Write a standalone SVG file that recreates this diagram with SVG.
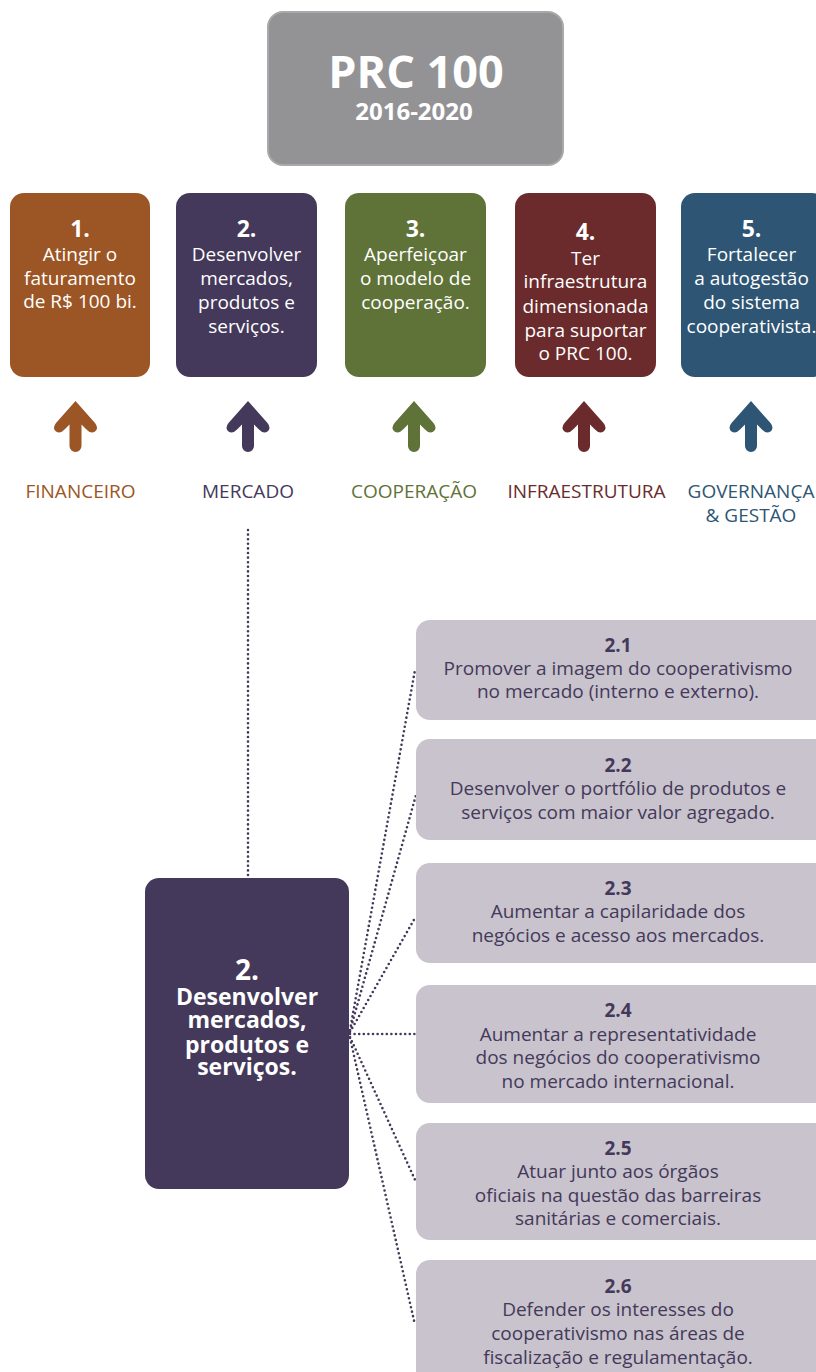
<svg xmlns="http://www.w3.org/2000/svg" width="816" height="1372" viewBox="0 0 816 1372">
<style>
.t{font-family:"Open Sans","Liberation Sans",sans-serif;text-anchor:middle}
.w{fill:#ffffff}
.n{font-weight:bold;font-size:23px}
.b{font-size:19px}
.lab{font-size:19px}
.sub{fill:#c8c3cc}
.st{fill:#44395a}
.sn{font-weight:bold;font-size:19px}
.sb{font-size:19px}
.mb{font-weight:bold;font-size:23px}
.dot{fill:none;stroke:#44395a;stroke-width:2.6;stroke-linecap:round;stroke-dasharray:0 4.6}
</style>
<defs>
<path id="arw" d="M0 0 L19.5 22 Q23.5 27 19.5 30.5 Q15 33 11 28.5 L6 23.5 L6 45 A6 6 0 0 1 -6 45 L-6 23.5 L-11 28.5 Q-15 33 -19.5 30.5 Q-23.5 27 -19.5 22 Z"/>
</defs>
<rect width="816" height="1372" fill="#ffffff"/>

<g id="top">
<rect x="268" y="12" width="295" height="153" rx="15" fill="#939396" stroke="#a9a9ab" stroke-width="2"/>
<text class="t w" x="416" y="88" font-weight="bold" font-size="45">PRC 100</text>
<text class="t w" x="414" y="120" font-weight="bold" font-size="24">2016-2020</text>
</g>

<g id="obj1">
<rect x="10" y="193" width="140" height="184" rx="14" fill="#9c5524"/>
<text class="t w n" x="80" y="237">1.</text>
<text class="t w b" x="80" y="261">Atingir o</text>
<text class="t w b" x="80" y="285">faturamento</text>
<text class="t w b" x="80" y="308">de R$ 100 bi.</text>
</g>
<g id="obj2">
<rect x="176" y="193" width="141" height="184" rx="14" fill="#44395a"/>
<text class="t w n" x="246.5" y="237">2.</text>
<text class="t w b" x="246.5" y="261">Desenvolver</text>
<text class="t w b" x="246.5" y="285">mercados,</text>
<text class="t w b" x="246.5" y="309">produtos e</text>
<text class="t w b" x="246.5" y="333">serviços.</text>
</g>
<g id="obj3">
<rect x="345" y="193" width="141" height="184" rx="14" fill="#5f7238"/>
<text class="t w n" x="415.5" y="237">3.</text>
<text class="t w b" x="415.5" y="261">Aperfeiçoar</text>
<text class="t w b" x="415.5" y="285">o modelo de</text>
<text class="t w b" x="415.5" y="309">cooperação.</text>
</g>
<g id="obj4">
<rect x="515" y="193" width="141" height="184" rx="14" fill="#6b2b2c"/>
<text class="t w n" x="585.5" y="240">4.</text>
<text class="t w b" x="585.5" y="265">Ter</text>
<text class="t w b" x="585.5" y="288">infraestrutura</text>
<text class="t w b" x="585.5" y="313">dimensionada</text>
<text class="t w b" x="585.5" y="337">para suportar</text>
<text class="t w b" x="585.5" y="360">o PRC 100.</text>
</g>
<g id="obj5">
<rect x="681" y="193" width="145" height="184" rx="14" fill="#2e5573"/>
<text class="t w n" x="751.5" y="237">5.</text>
<text class="t w b" x="751.5" y="261">Fortalecer</text>
<text class="t w b" x="751.5" y="285">a autogestão</text>
<text class="t w b" x="751.5" y="309">do sistema</text>
<text class="t w b" x="751.5" y="333">cooperativista.</text>
</g>

<g id="arrows">
<use href="#arw" x="75.5" y="401" fill="#9c5524"/>
<use href="#arw" x="248" y="401" fill="#44395a"/>
<use href="#arw" x="414" y="401" fill="#5f7238"/>
<use href="#arw" x="584" y="401" fill="#6b2b2c"/>
<use href="#arw" x="751" y="401" fill="#2e5573"/>
</g>

<g id="labels">
<text class="t lab" x="80.5" y="498" fill="#9c5524">FINANCEIRO</text>
<text class="t lab" x="248" y="498" fill="#44395a">MERCADO</text>
<text class="t lab" x="414" y="498" fill="#5f7238">COOPERAÇÃO</text>
<text class="t lab" x="586.5" y="498" fill="#6b2b2c">INFRAESTRUTURA</text>
<text class="t lab" x="751" y="498" fill="#2e5573">GOVERNANÇA</text>
<text class="t lab" x="751" y="522" fill="#2e5573">&amp; GESTÃO</text>
</g>

<g id="connectors">
<path class="dot" d="M248 530 L248 877"/>
<path class="dot" d="M350 1030 L415 670"/>
<path class="dot" d="M350 1031 L416 795"/>
<path class="dot" d="M350 1032 L415 918"/>
<path class="dot" d="M350 1034 L416 1034"/>
<path class="dot" d="M350 1037 L416 1182"/>
<path class="dot" d="M350 1038 L415 1325"/>
</g>

<g id="main">
<rect x="145" y="878" width="204" height="311" rx="14" fill="#44395a"/>
<text class="t w" x="247" y="980" font-weight="bold" font-size="28">2.</text>
<text class="t w mb" x="247" y="1005">Desenvolver</text>
<text class="t w mb" x="247" y="1028">mercados,</text>
<text class="t w mb" x="247" y="1053">produtos e</text>
<text class="t w mb" x="247" y="1075">serviços.</text>
</g>

<g id="s21">
<rect class="sub" x="416" y="620" width="420" height="100" rx="14"/>
<text class="t st sn" x="618" y="652">2.1</text>
<text class="t st sb" x="618" y="675">Promover a imagem do cooperativismo</text>
<text class="t st sb" x="618" y="698">no mercado (interno e externo).</text>
</g>
<g id="s22">
<rect class="sub" x="416" y="739" width="420" height="101" rx="14"/>
<text class="t st sn" x="618" y="772">2.2</text>
<text class="t st sb" x="618" y="795">Desenvolver o portfólio de produtos e</text>
<text class="t st sb" x="618" y="819">serviços com maior valor agregado.</text>
</g>
<g id="s23">
<rect class="sub" x="416" y="863" width="420" height="100" rx="14"/>
<text class="t st sn" x="618" y="895">2.3</text>
<text class="t st sb" x="618" y="918">Aumentar a capilaridade dos</text>
<text class="t st sb" x="618" y="942">negócios e acesso aos mercados.</text>
</g>
<g id="s24">
<rect class="sub" x="416" y="985" width="420" height="118" rx="14"/>
<text class="t st sn" x="618" y="1017">2.4</text>
<text class="t st sb" x="618" y="1041">Aumentar a representatividade</text>
<text class="t st sb" x="618" y="1064">dos negócios do cooperativismo</text>
<text class="t st sb" x="618" y="1088">no mercado internacional.</text>
</g>
<g id="s25">
<rect class="sub" x="416" y="1123" width="420" height="117" rx="14"/>
<text class="t st sn" x="618" y="1155">2.5</text>
<text class="t st sb" x="618" y="1178">Atuar junto aos órgãos</text>
<text class="t st sb" x="618" y="1202">oficiais na questão das barreiras</text>
<text class="t st sb" x="618" y="1225">sanitárias e comerciais.</text>
</g>
<g id="s26">
<rect class="sub" x="416" y="1260" width="420" height="130" rx="14"/>
<text class="t st sn" x="618" y="1293">2.6</text>
<text class="t st sb" x="618" y="1316">Defender os interesses do</text>
<text class="t st sb" x="618" y="1340">cooperativismo nas áreas de</text>
<text class="t st sb" x="618" y="1364">fiscalização e regulamentação.</text>
</g>
</svg>
